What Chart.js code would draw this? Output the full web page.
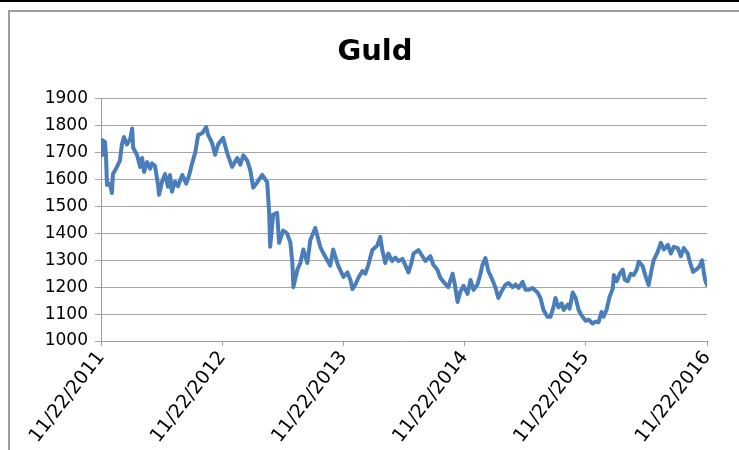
<!DOCTYPE html>
<html>
<head>
<meta charset="utf-8">
<script src="https://cdn.jsdelivr.net/npm/chart.js@4/dist/chart.umd.min.js"></script>
<style>
  html,body{margin:0;padding:0;background:#fff;}
  #wrap{position:relative;width:739px;height:450px;overflow:hidden;}
  #topline{position:absolute;left:0;top:0;width:739px;height:2px;background:#000;}
  #frame{position:absolute;left:8px;top:10px;width:800px;height:500px;border-left:2px solid #9e9e9e;border-top:2px solid #9e9e9e;}
  canvas{position:absolute;left:0;top:0;}
</style>
</head>
<body>
<div id="wrap">
  <div id="topline"></div>
  <div id="frame"></div>
  <canvas id="c" width="739" height="450"></canvas>
</div>
<script>
// Days since 11/22/2011
const days = [0,3,12,15,18,27,33,36,48,57,63,69,78,88,94,97,109,118,124,130,139,148,154,163,172,175,184,193,202,208,214,223,232,245,257,266,275,284,293,305,317,323,335,344,353,368,380,395,411,420,429,441,450,459,471,486,501,507,510,519,531,537,549,561,571,577,580,592,601,610,622,631,646,661,670,682,691,700,715,731,743,752,758,767,776,788,797,806,818,833,842,848,857,866,878,887,897,909,918,927,936,942,957,969,978,993,1002,1014,1023,1038,1047,1060,1066,1075,1084,1093,1105,1114,1123,1135,1144,1150,1159,1168,1180,1189,1198,1210,1220,1229,1241,1250,1259,1271,1280,1289,1301,1316,1325,1334,1346,1355,1364,1370,1379,1389,1395,1407,1413,1422,1431,1440,1449,1461,1470,1482,1491,1500,1509,1515,1524,1533,1543,1546,1555,1564,1573,1579,1588,1597,1606,1615,1621,1633,1642,1651,1660,1666,1678,1688,1697,1709,1718,1727,1739,1748,1757,1769,1775,1785,1794,1803,1812,1818,1821,1827];
// Gold price (USD/oz)
const gold = [1690,1747,1740,1690,1580,1585,1550,1620,1647,1670,1730,1758,1730,1750,1790,1718,1690,1647,1680,1628,1665,1640,1660,1650,1580,1543,1592,1620,1573,1617,1555,1592,1575,1617,1585,1617,1662,1700,1766,1772,1795,1766,1735,1692,1730,1755,1700,1647,1680,1655,1690,1670,1635,1570,1590,1617,1590,1476,1350,1470,1476,1365,1410,1400,1365,1290,1200,1265,1290,1340,1290,1375,1420,1350,1327,1300,1280,1340,1280,1238,1255,1227,1193,1210,1235,1260,1250,1283,1338,1355,1387,1338,1290,1325,1297,1310,1297,1305,1280,1255,1290,1325,1338,1315,1297,1315,1283,1265,1235,1212,1200,1250,1215,1145,1185,1205,1175,1227,1190,1210,1250,1283,1308,1260,1227,1200,1160,1190,1210,1215,1200,1210,1197,1220,1190,1190,1197,1180,1160,1115,1090,1090,1125,1160,1125,1140,1115,1135,1120,1180,1160,1115,1095,1075,1080,1065,1072,1070,1108,1090,1115,1163,1195,1245,1222,1250,1265,1228,1222,1250,1245,1265,1295,1278,1240,1208,1265,1300,1330,1365,1340,1357,1325,1350,1345,1315,1345,1325,1295,1257,1265,1275,1300,1250,1228,1208];
const tickDays = [0,366,731,1096,1461,1827];
const tickLabels = ["11/22/2011","11/22/2012","11/22/2013","11/22/2014","11/22/2015","11/22/2016"];
const titleText = "Guld";

const points = days.map((d,i)=>({x:d,y:gold[i]}));
const yFont = {family:"'DejaVu Sans', sans-serif", size:17};
const xFont = {family:"'DejaVu Sans', sans-serif", size:19};

new Chart(document.getElementById('c'), {
  type:'line',
  data:{datasets:[{data:points,borderColor:'#4a7ebb',borderWidth:4,pointRadius:0,tension:0,fill:false,borderJoinStyle:'round',borderCapStyle:'round'}]},
  options:{
    responsive:false,animation:false,
    layout:{padding:{top:35,right:32,bottom:0,left:43}},
    plugins:{
      legend:{display:false},
      tooltip:{enabled:false},
      title:{display:true,text:titleText,color:'#000',font:{family:"'DejaVu Sans', sans-serif",size:29,weight:'bold'},padding:{top:0,bottom:29}}
    },
    scales:{
      x:{
        type:'linear',min:0,max:1827,
        afterBuildTicks:(s)=>{s.ticks=tickDays.map(v=>({value:v}));},
        afterFit:(s)=>{s.height=109;},
        grid:{drawOnChartArea:false,drawTicks:true,tickLength:5,color:'#9e9e9e'},
        border:{color:'#9e9e9e',width:1},
        ticks:{autoSkip:false,minRotation:52,maxRotation:52,color:'#000',font:xFont,padding:1,
          callback:(v,i)=>tickLabels[i]}
      },
      y:{
        min:1000,max:1900,
        afterFit:(s)=>{s.width=58;},
        grid:{color:'#a6a6a6',tickLength:6,drawTicks:true},
        border:{color:'#9e9e9e',width:1},
        ticks:{stepSize:100,color:'#000',font:yFont,padding:7,callback:(v)=>String(v)}
      }
    }
  }
});
</script>
</body>
</html>
